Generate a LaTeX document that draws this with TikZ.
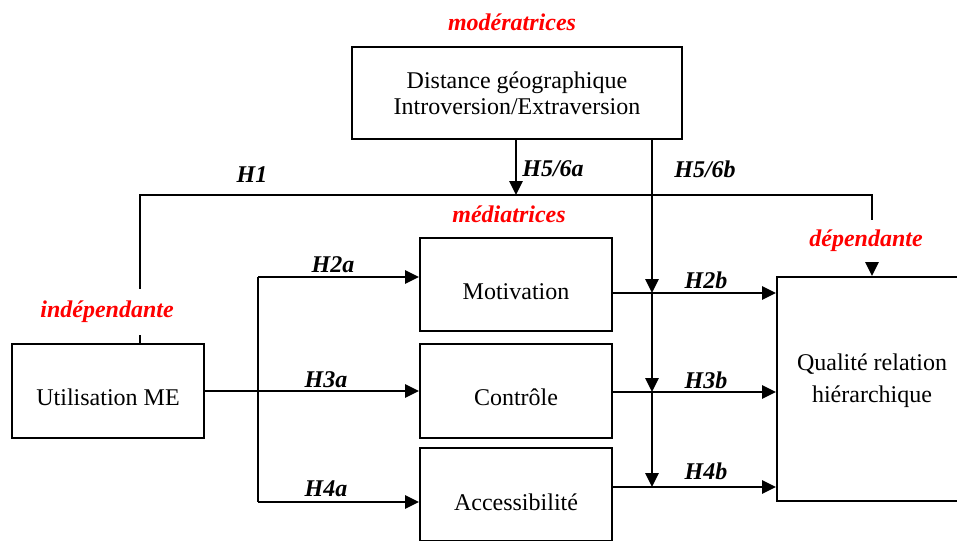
\documentclass[tikz,border=0pt]{standalone}
\usepackage{fontspec}
\setmainfont{Liberation Serif}
\usetikzlibrary{arrows.meta}
% move a label vertically inside its box without changing the box size
\newcommand\boxtextshift[2]{\raisebox{#1}[\height][\depth]{#2}}
\begin{document}
\begin{tikzpicture}[x=0.75pt,y=-0.75pt,
  box/.style={draw, line width=1.5pt, rectangle, inner sep=0pt,
    font=\fontsize{18}{19.5}\selectfont, align=center},
  link/.style={line width=1.5pt},
  arrow/.style={link, -{Triangle[length=10.5pt,width=10pt]}},
  hyp/.style={font=\fontsize{18}{22}\selectfont\bfseries\itshape, inner sep=1pt},
  role/.style={hyp, text=red, fill=white, minimum height=35pt}]
\useasboundingbox (0,0) rectangle (957,540);

% boxes
\node[box, minimum width=247.5pt, minimum height=69pt] (mod) at (517,93)
  {Distance géographique\\Introversion/Extraversion};
\node[box, minimum width=144pt, minimum height=70.5pt] (util) at (108,391)
  {\boxtextshift{-4.5pt}{Utilisation ME}};
\node[box, minimum width=144pt, minimum height=69.75pt] (motiv) at (516,284.5)
  {\boxtextshift{-5pt}{Motivation}};
\node[box, minimum width=144pt, minimum height=70.5pt] (ctrl) at (516,391)
  {\boxtextshift{-4.5pt}{Contrôle}};
\node[box, minimum width=144pt, minimum height=69.75pt] (access) at (516,494.5)
  {\boxtextshift{-6pt}{Accessibilité}};
\node[box, minimum width=142.5pt, minimum height=168pt,
  font=\fontsize{18}{24}\selectfont] (qual) at (872,389)
  {\boxtextshift{7pt}{\begin{tabular}{@{}c@{}}Qualité relation\\hiérarchique\end{tabular}}};

% helper coordinates
\coordinate (h1L) at (140,195);
\coordinate (h1R) at (872,195);
\coordinate (forkT) at (258,277);
\coordinate (forkB) at (258,502);
\coordinate (va) at (516,0);
\coordinate (vb) at (652,0);
\coordinate (o2) at (612,293);
\coordinate (o3) at (612,392);
\coordinate (o4) at (612,487);

% H1 : direct link
\draw[arrow] (util.north -| h1L) -- (h1L) -- (h1R) -- (qual.north);

% independent variable to mediators
\draw[arrow] (util.east) -- (ctrl.west);
\draw[link] (forkT) -- (forkB);
\draw[arrow] (forkT) -- (forkT -| motiv.west);
\draw[arrow] (forkB) -- (forkB -| access.west);

% mediators to dependent variable
\draw[arrow] (o2) -- (o2 -| qual.west);
\draw[arrow] (o3) -- (o3 -| qual.west);
\draw[arrow] (o4) -- (o4 -| qual.west);

% moderators
\draw[arrow] (mod.south -| va) -- (va |- h1L);
\draw[arrow] (mod.south -| vb) -- (vb |- o2);
\draw[arrow] (vb |- o2) -- (vb |- o3);
\draw[arrow] (vb |- o3) -- (vb |- o4);

% hypothesis labels
\node[hyp] (lH1) at (252,175) {H1};
\node[hyp] (lH56a) at (553,169) {H5/6a};
\node[hyp] (lH56b) at (705,169) {H5/6b};
\node[hyp] (lH2a) at (333,265) {H2a};
\node[hyp] (lH3a) at (326,380) {H3a};
\node[hyp] (lH4a) at (326,489) {H4a};
\node[hyp] (lH2b) at (706,280) {H2b};
\node[hyp] (lH3b) at (706,380) {H3b};
\node[hyp] (lH4b) at (706,471) {H4b};

% variable roles
\node[role, fill=none] (rmod) at (512,22) {modératrices};
\node[role, fill=none] (rmed) at (509,214) {médiatrices};
\node[role, minimum height=32pt] (rdep) at (866,241) {dépendante};
\node[role] (rind) at (107,312) {indépendante};
\end{tikzpicture}
\end{document}
